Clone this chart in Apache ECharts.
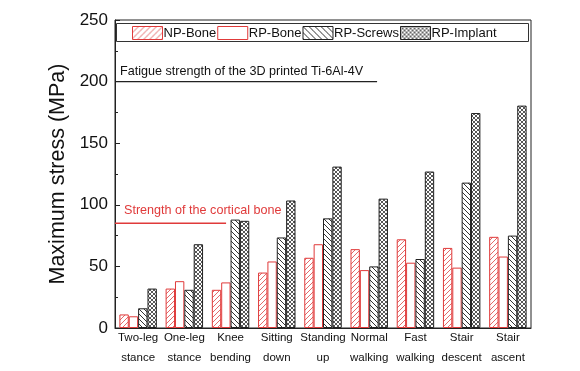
<!DOCTYPE html>
<html>
<head>
<meta charset="utf-8">
<script src="https://cdn.jsdelivr.net/npm/echarts@6/dist/echarts.min.js"></script>
<style>
html,body{margin:0;padding:0;background:#fff;}
#chart{width:580px;height:371px;}
</style>
</head>
<body>
<div id="chart"></div>
<script>
const categories = ['Two-leg\nstance','One-leg\nstance','Knee\nbending','Sitting\ndown','Standing\nup','Normal\nwalking','Fast\nwalking','Stair\ndescent','Stair\nascent'];
const npBone    = [11, 32, 31, 45, 57, 64, 72, 65, 74];
const rpBone    = [9.5, 38, 37, 54, 68, 47, 53, 49, 58];
const rpScrews  = [16, 31, 88, 73.5, 89, 50, 56, 118, 75];
const rpImplant = [32, 68, 87, 103.5, 131, 105, 127, 174.5, 180.5];
const seriesNames = ['NP-Bone','RP-Bone','RP-Screws','RP-Implant'];
const yTicks = {min: 0, max: 250, interval: 50};
const fatigueStrength = 200;
const corticalStrength = 85;

const FONT = '"Liberation Sans", Arial, sans-serif';
const RED = '#e03a3a';
const RED_HATCH = '#e46a6a';
const DARK = '#222';

function makePattern(size, color, dirs, lw) {
  const c = document.createElement('canvas');
  c.width = size; c.height = size;
  const ctx = c.getContext('2d');
  ctx.fillStyle = '#fff';
  ctx.fillRect(0, 0, size, size);
  ctx.strokeStyle = color;
  ctx.lineWidth = lw || 1;
  dirs.forEach(function (d) {
    ctx.beginPath();
    for (let k = -1; k <= 1; k++) {
      if (d === '/') {
        ctx.moveTo(k * size - 1, size + 1);
        ctx.lineTo(k * size + size + 1, -1);
      } else {
        ctx.moveTo(k * size - 1, -1);
        ctx.lineTo(k * size + size + 1, size + 1);
      }
    }
    ctx.stroke();
  });
  return {image: c, repeat: 'repeat'};
}

const patNP = makePattern(5, RED_HATCH, ['/'], 1);
const patScrews = makePattern(5, '#333', ['\\'], 1);
const patImplant = makePattern(4, '#444', ['/', '\\'], 0.9);
const patNPLeg = makePattern(6, RED_HATCH, ['/'], 1);
const patScrewsLeg = makePattern(6, '#333', ['\\'], 1);
const patImplantLeg = makePattern(4, '#555', ['/', '\\'], 0.9);

const chart = echarts.init(document.getElementById('chart'), null, {renderer: 'canvas'});

const styles = [
  {color: patNP, borderColor: RED, borderWidth: 1},
  {color: '#fff', borderColor: RED, borderWidth: 1},
  {color: patScrews, borderColor: DARK, borderWidth: 1},
  {color: patImplant, borderColor: DARK, borderWidth: 1}
];
const legStyles = [
  {color: patNPLeg, borderColor: RED, borderWidth: 1},
  {color: '#fff', borderColor: RED, borderWidth: 1},
  {color: patScrewsLeg, borderColor: DARK, borderWidth: 1},
  {color: patImplantLeg, borderColor: DARK, borderWidth: 1}
];
const allData = [npBone, rpBone, rpScrews, rpImplant];

const option = {
  animation: false,
  backgroundColor: '#fff',
  textStyle: {fontFamily: FONT},
  grid: {left: 115, right: 49, top: 20, bottom: 43, show: true, borderColor: DARK, borderWidth: 1, backgroundColor: 'transparent'},
  legend: {
    left: 132, top: 26, padding: 0, itemGap: 1,
    itemWidth: 30, itemHeight: 13,
    textStyle: {fontFamily: FONT, fontSize: 13, color: '#111', padding: [0, 0, 0, -4]},
    data: seriesNames.map(function (n, i) { return {name: n, icon: 'rect', itemStyle: legStyles[i]}; })
  },
  xAxis: {
    type: 'category',
    data: categories,
    axisLine: {lineStyle: {color: DARK, width: 1}},
    axisTick: {show: false},
    axisLabel: {interval: 0, fontFamily: FONT, fontSize: 11.5, lineHeight: 20, margin: 0, color: '#111'}
  },
  yAxis: {
    type: 'value',
    min: yTicks.min, max: yTicks.max, interval: yTicks.interval,
    name: 'Maximum stress (MPa)',
    nameLocation: 'middle', nameGap: 43,
    nameTextStyle: {fontFamily: FONT, fontSize: 21.5, color: '#111'},
    axisLine: {show: true, lineStyle: {color: DARK, width: 1}},
    axisTick: {show: true, inside: true, length: 5, lineStyle: {color: DARK}},
    minorTick: {show: true, splitNumber: 2, length: 3, lineStyle: {color: DARK}},
    splitLine: {show: false},
    axisLabel: {fontFamily: FONT, fontSize: 17, margin: 7, color: '#111'}
  },
  series: seriesNames.map(function (n, i) {
    return {
      name: n, type: 'bar', data: allData[i],
      barGap: '0%', barCategoryGap: '19%',
      itemStyle: styles[i],
      emphasis: {disabled: true}
    };
  })
};
chart.setOption(option);

// reference lines / annotations
const gridLeft = 115, gridWidth = 580 - 115 - 49;
const yF = chart.convertToPixel({yAxisIndex: 0}, fatigueStrength);
const yC = chart.convertToPixel({yAxisIndex: 0}, corticalStrength);
chart.setOption({
  graphic: [
    {type: 'rect', shape: {x: 116.5, y: 23.5, width: 412, height: 18}, style: {fill: 'none', stroke: '#333', lineWidth: 1}, z: 100},
    {type: 'line', shape: {x1: gridLeft, y1: yF, x2: gridLeft + gridWidth * 0.63, y2: yF}, style: {stroke: '#222', lineWidth: 1.2}, z: 100},
    {type: 'text', left: 120, top: yF - 17, style: {text: 'Fatigue strength of the 3D printed Ti-6Al-4V', font: '12.6px ' + FONT, fill: '#111'}, z: 100},
    {type: 'line', shape: {x1: gridLeft, y1: yC, x2: gridLeft + gridWidth * 0.267, y2: yC}, style: {stroke: RED, lineWidth: 1.5}, z: 100},
    {type: 'text', left: 124, top: yC - 19, style: {text: 'Strength of the cortical bone', font: '12.6px ' + FONT, fill: RED}, z: 100}
  ]
});
</script>
</body>
</html>
